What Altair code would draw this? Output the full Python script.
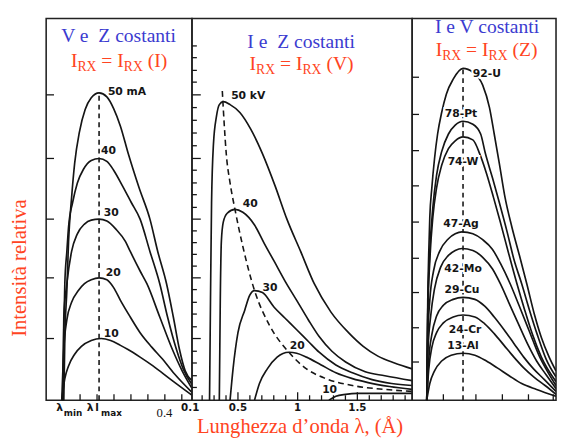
import altair as alt
import pandas as pd

# ---------------- data ----------------
# Panel 1 : V and Z constant, tube current (mA) varies. x = wavelength (A), y = relative intensity
mA_names = ["50", "40", "30", "20", "10"]
mA50_x = [0.102,0.105,0.111,0.116,0.125,0.134,0.148,0.165,0.183,0.206,0.229,0.249,0.269,0.292,0.324,0.356,0.379,0.405,0.425,0.443,0.460,0.480]
mA50_y = [0,62,112,162,207,242,274,297,309,314,310,298,280,252,217,185,152,119,85,52,30,20]
mA40_x = [0.099,0.102,0.105,0.111,0.116,0.128,0.142,0.160,0.183,0.206,0.229,0.249,0.275,0.301,0.327,0.356,0.385,0.408,0.434,0.454,0.480]
mA40_y = [0,72,119,152,177,202,222,236,245,247,244,235,219,202,185,152,119,85,52,32,16]
mA30_x = [0.099,0.102,0.111,0.125,0.142,0.163,0.183,0.206,0.229,0.255,0.284,0.298,0.327,0.347,0.385,0.422,0.451,0.480]
mA30_y = [0,85,119,152,170,180,184,185,183,175,162,152,132,119,85,52,30,12]
mA20_x = [0.096,0.102,0.111,0.125,0.145,0.163,0.183,0.206,0.229,0.249,0.269,0.298,0.327,0.362,0.393,0.428,0.480]
mA20_y = [0,52,82,100,112,119,123,125,123,115,102,85,69,54,42,27,8]
mA10_x = [0.096,0.105,0.116,0.134,0.154,0.183,0.212,0.240,0.269,0.290,0.327,0.365,0.414,0.480]
mA10_y = [0,22,35,47,55,61,63,61,56,52,44,35,22,5]
p1_peak_x = 0.206
p1_peak_top = 314
p1_label_text = ["50 mA", "40", "30", "20", "10"]
p1_label_x = [0.232, 0.212, 0.220, 0.226, 0.220]
p1_label_y = [315, 255, 191, 130, 68]

# Panel 2 : I and Z constant, tube voltage (kV) varies
kV_names = ["50", "40", "30", "20", "10"]
kV50_x = [0.262,0.270,0.279,0.295,0.320,0.344,0.377,0.434,0.516,0.607,0.705,0.811,0.910,1.025,1.139,1.279,1.426,1.549,1.672,1.811,1.959]
kV50_y = [0,102,202,262,290,302,305,302,294,277,252,219,185,152,119,90,69,55,45,38,32]
kV40_x = [0.344,0.352,0.361,0.377,0.410,0.475,0.541,0.639,0.721,0.803,0.893,0.992,1.090,1.180,1.287,1.402,1.566,1.730,1.959]
kV40_y = [0,102,162,182,191,195,192,179,160,142,122,102,82,65,50,39,29,25,20]
kV30_x = [0.434,0.459,0.500,0.557,0.598,0.639,0.705,0.803,0.893,0.992,1.090,1.180,1.320,1.459,1.623,1.787,1.959]
kV30_y = [0,32,69,92,107,112,110,95,84,72,60,49,36,28,21,17,15]
kV20_x = [0.639,0.680,0.746,0.828,0.926,0.992,1.074,1.197,1.320,1.459,1.590,1.770,1.959]
kV20_y = [0,17,32,44,49,48,44,36,28,22,18,14,11]
kV10_x = [1.262,1.320,1.402,1.500,1.648,1.811,1.959]
kV10_y = [0,4,6,7,7,7,7]
kV_peak_x = [0.369,0.385,0.402,0.434,0.475,0.541,0.639,0.762,0.926,1.074,1.238,1.459,1.730,1.959]
kV_peak_y = [316,282,252,222,195,157,112,77,49,32,22,15,11,9]
p2_label_text = ["50 kV", "40", "30", "20", "10"]
p2_label_x = [0.443, 0.541, 0.705, 0.934, 1.205]
p2_label_y = [311, 200, 115, 55, 10]

# Panel 3 : I and V constant, anode element (Z) varies
Z_names = ["92-U", "78-Pt", "74-W", "47-Ag", "42-Mo", "29-Cu", "24-Cr", "13-Al"]
U_x  = [0.093,0.096,0.099,0.102,0.108,0.116,0.125,0.137,0.151,0.171,0.200,0.229,0.258,0.278,0.292,0.307,0.324,0.344,0.367,0.388,0.411,0.431,0.454,0.474]
U_y  = [0,102,152,187,217,247,272,294,313,328,339,335,322,299,272,242,207,177,147,119,87,64,44,30]
Pt_x = [0.093,0.096,0.102,0.111,0.122,0.137,0.157,0.177,0.200,0.229,0.252,0.266,0.287,0.307,0.330,0.350,0.373,0.396,0.419,0.445,0.474]
Pt_y = [0,92,152,197,230,254,272,281,285,282,272,252,227,202,172,144,119,92,67,42,24]
W_x  = [0.093,0.096,0.102,0.111,0.122,0.137,0.157,0.177,0.200,0.229,0.249,0.269,0.290,0.310,0.333,0.359,0.382,0.405,0.431,0.474]
W_y  = [0,87,142,187,217,240,257,265,269,266,252,232,207,182,152,119,92,67,44,19]
Ag_x = [0.093,0.096,0.102,0.113,0.131,0.157,0.177,0.197,0.229,0.258,0.287,0.310,0.339,0.365,0.388,0.405,0.425,0.448,0.474]
Ag_y = [0,62,102,132,152,165,170,172,170,164,154,140,119,97,77,62,45,30,15]
Mo_x = [0.093,0.096,0.105,0.116,0.134,0.157,0.177,0.197,0.229,0.258,0.287,0.310,0.336,0.362,0.391,0.417,0.445,0.474]
Mo_y = [0,47,87,114,136,148,153,155,153,146,134,119,99,79,57,40,26,12]
Cu_x = [0.093,0.099,0.108,0.122,0.142,0.171,0.200,0.235,0.264,0.292,0.321,0.350,0.379,0.408,0.440,0.474]
Cu_y = [0,42,67,86,97,103,105,103,96,85,72,58,44,32,21,9]
Cr_x = [0.093,0.099,0.108,0.122,0.142,0.171,0.200,0.235,0.264,0.292,0.321,0.350,0.379,0.411,0.442,0.474]
Cr_y = [0,32,54,69,79,85,87,85,78,68,56,44,33,23,15,6]
Al_x = [0.093,0.102,0.116,0.137,0.165,0.200,0.235,0.269,0.301,0.336,0.373,0.417,0.474]
Al_y = [0,17,30,40,46,48,46,40,33,25,17,11,4]
p3_peak_x = 0.200
p3_peak_top = 339
p3_label_x = [0.229, 0.194, 0.200, 0.194, 0.200, 0.197, 0.206, 0.200]
p3_label_y = [333, 292, 243, 180, 134, 113, 72, 55]

# tick positions
p1_yticks = [63, 125, 185, 247, 312]
p1_xticks = [0.10, 0.15, 0.20, 0.25, 0.30, 0.35, 0.40, 0.45]
p2_yticks_major = [63, 125, 185, 247, 312]
p2_yticks_minor = [13, 25, 38, 50, 75, 88, 100, 113, 137, 149, 161, 173, 197, 210, 222, 235,
                   260, 273, 286, 299, 325, 337, 350, 362]
p2_xticks_minor = [0.2, 0.3, 0.4, 0.6, 0.7, 0.8, 0.9, 1.1, 1.2, 1.3, 1.4, 1.6, 1.7, 1.8, 1.9]
p2_xticks_major = [0.5, 1.0, 1.5]
p2_xlabels = ["0.1", "0.5", "1", "1.5"]
p2_xlabel_pos = [0.1, 0.5, 1.0, 1.5]
p3_yticks = [330, 292, 255, 219, 182, 145, 110, 74, 39]
p3_xticks = [0.142, 0.238, 0.316, 0.393, 0.466]

# ---------------- style ----------------
H = 390
W1, W2, W3 = 149, 225, 147
BLUE = "#3b3bd0"
RED = "#ff4422"
SERIF = "Liberation Serif"
SANS = "DejaVu Sans"
INK = "#151515"

ys = alt.Scale(domain=[0, 390], nice=False, zero=False)
xs1 = alt.Scale(domain=[0.05, 0.48], nice=False, zero=False)
xs2 = alt.Scale(domain=[0.115, 1.959], nice=False, zero=False)
xs3 = alt.Scale(domain=[0.05, 0.05 + W3 / 346.5], nice=False, zero=False)


def curves_df(names, xs, ys_):
    rows = []
    for n, xx, yy in zip(names, xs, ys_):
        for a, b in zip(xx, yy):
            rows.append({"curve": n, "x": a, "y": b})
    return pd.DataFrame(rows)


def lines(df, xsc):
    return alt.Chart(df).mark_line(color=INK, strokeWidth=1.7, interpolate="monotone", clip=True).encode(
        x=alt.X("x:Q", scale=xsc, axis=None),
        y=alt.Y("y:Q", scale=ys, axis=None),
        detail="curve:N",
    )


def text(s, x, y, size, color, font=SERIF, align="left", baseline="alphabetic", angle=0, weight="normal"):
    return alt.Chart(pd.DataFrame({"t": [s]})).mark_text(
        align=align, baseline=baseline, fontSize=size, font=font, color=color, angle=angle, fontWeight=weight
    ).encode(x=alt.value(x), y=alt.value(y), text="t:N")


TIMES = {"I": 0.333, "R": 0.667, "X": 0.722, " ": 0.25, "=": 0.564, "(": 0.333, ")": 0.333,
         "V": 0.722, "Z": 0.611}


def tw(s, size):
    return sum(TIMES[c] for c in s) * size


def irx_line(cx, base, letter):
    M, S = 20, 14
    parts = [("I", M, 0), ("RX", S, 4), (" = I", M, 0), ("RX", S, 4), (" (%s)" % letter, M, 0)]
    total = sum(tw(t, s) for t, s, _ in parts)
    x = cx - total / 2
    out = []
    for t, s, dy in parts:
        st = t.lstrip()
        lead = tw(t[: len(t) - len(st)], s)
        out.append(text(st, x + lead, base + dy, s, RED))
        x += tw(t, s)
    return out


def left_ticks(vals, length, xsc):
    return alt.Chart(pd.DataFrame({"y": vals})).mark_rule(color=INK, strokeWidth=1.3).encode(
        y=alt.Y("y:Q", scale=ys, axis=None), x=alt.value(0), x2=alt.value(length)
    )


def bottom_ticks(vals, length, xsc):
    return alt.Chart(pd.DataFrame({"x": vals})).mark_rule(color=INK, strokeWidth=1.3).encode(
        x=alt.X("x:Q", scale=xsc, axis=None), y=alt.value(H), y2=alt.value(H - length)
    )


def peak_labels(txt, xx, yy, xsc, align="left", halo=False):
    df = pd.DataFrame({"t": txt, "x": xx, "y": yy})
    enc = dict(x=alt.X("x:Q", scale=xsc, axis=None), y=alt.Y("y:Q", scale=ys, axis=None), text="t:N")
    layers = []
    if halo:
        layers.append(alt.Chart(df).mark_text(align=align, baseline="middle", font=SANS, fontSize=11,
                                              fontWeight="bold", stroke="white", strokeWidth=4,
                                              color="white").encode(**enc))
    layers.append(alt.Chart(df).mark_text(align=align, baseline="middle", font=SANS, fontSize=11,
                                          fontWeight="bold", color=INK).encode(**enc))
    return layers


def dashed_vertical(x, top, xsc):
    return alt.Chart(pd.DataFrame({"x": [x], "y0": [0], "y1": [top]})).mark_rule(
        color=INK, strokeWidth=1.6, strokeDash=[5, 4]).encode(
        x=alt.X("x:Q", scale=xsc, axis=None), y=alt.Y("y0:Q", scale=ys, axis=None), y2="y1:Q")


def axis_label(s, x, xsc, ypix, size, font=SANS, weight="bold", align="center"):
    return alt.Chart(pd.DataFrame({"t": [s], "x": [x]})).mark_text(
        align=align, baseline="alphabetic", fontSize=size, font=font, fontWeight=weight, color=INK
    ).encode(x=alt.X("x:Q", scale=xsc, axis=None), y=alt.value(ypix), text="t:N")


# ---------------- panel 1 ----------------
df1 = curves_df(mA_names, [mA50_x, mA40_x, mA30_x, mA20_x, mA10_x], [mA50_y, mA40_y, mA30_y, mA20_y, mA10_y])
p1 = alt.layer(
    lines(df1, xs1),
    dashed_vertical(p1_peak_x, p1_peak_top, xs1),
    left_ticks(p1_yticks, 8, xs1),
    bottom_ticks(p1_xticks, 6, xs1),
    *peak_labels(p1_label_text, p1_label_x, p1_label_y, xs1),
    axis_label("λ", 0.090, xs1, 401, 11),
    axis_label("min", 0.102, xs1, 406, 9, align="left"),
    axis_label("λ", 0.180, xs1, 401, 11),
    axis_label("I", 0.200, xs1, 401, 10),
    axis_label("max", 0.212, xs1, 406, 9, align="left"),
    axis_label("0.4", 0.399, xs1, 407, 13, font=SERIF, weight="normal"),
    text("V e\u00a0 Z costanti", 74, 24, 20, BLUE, align="center"),
    *irx_line(74.5, 50, "I"),
    text("Intensità relativa", -27, 255, 21, RED, align="center", baseline="middle", angle=270),
).properties(width=W1, height=H)

# ---------------- panel 2 ----------------
df2 = curves_df(kV_names, [kV50_x, kV40_x, kV30_x, kV20_x, kV10_x], [kV50_y, kV40_y, kV30_y, kV20_y, kV10_y])
dash2 = alt.Chart(pd.DataFrame({"x": kV_peak_x, "y": kV_peak_y})).mark_line(
    color=INK, strokeWidth=1.6, strokeDash=[6, 4], interpolate="monotone").encode(
    x=alt.X("x:Q", scale=xs2, axis=None), y=alt.Y("y:Q", scale=ys, axis=None))
p2 = alt.layer(
    lines(df2, xs2),
    dash2,
    left_ticks(p2_yticks_major, 9, xs2),
    left_ticks(p2_yticks_minor, 5, xs2),
    bottom_ticks(p2_xticks_major, 8, xs2),
    bottom_ticks(p2_xticks_minor, 5, xs2),
    *peak_labels(p2_label_text, p2_label_x, p2_label_y, xs2),
    *[axis_label(t, v, xs2, 401, 10.5) for t, v in zip(p2_xlabels, p2_xlabel_pos)],
    text("I e\u00a0 Z costanti", 111.5, 30, 20, BLUE, align="center"),
    *irx_line(112, 53, "V"),
    text("Lunghezza d\u2019onda λ, (Å)", 110.5, 424, 21, RED, align="center"),
).properties(width=W2, height=H)

# ---------------- panel 3 ----------------
df3 = curves_df(Z_names, [U_x, Pt_x, W_x, Ag_x, Mo_x, Cu_x, Cr_x, Al_x],
                [U_y, Pt_y, W_y, Ag_y, Mo_y, Cu_y, Cr_y, Al_y])
p3 = alt.layer(
    lines(df3, xs3),
    dashed_vertical(p3_peak_x, p3_peak_top, xs3),
    left_ticks(p3_yticks, 7, xs3),
    bottom_ticks(p3_xticks, 6, xs3),
    *peak_labels(Z_names[:1], p3_label_x[:1], p3_label_y[:1], xs3, align="left", halo=True),
    *peak_labels(Z_names[1:], p3_label_x[1:], p3_label_y[1:], xs3, align="center", halo=True),
    text("I e V costanti", 76.5, 15, 20, BLUE, align="center"),
    *irx_line(76, 38, "Z"),
).properties(width=W3, height=H)

chart = alt.hconcat(p1, p2, p3, spacing=0, bounds="flush").configure_view(
    stroke="#222", strokeWidth=1.6
).properties(padding={"left": 0, "top": 4, "right": 0, "bottom": 0}, background="white")

chart.save("out.html", embed_options={"renderer": "svg", "actions": False})
